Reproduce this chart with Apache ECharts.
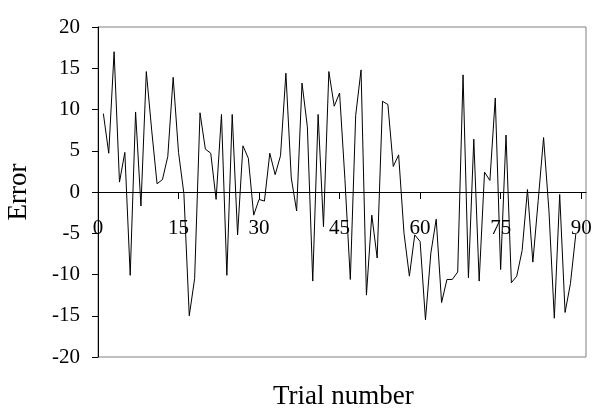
<!DOCTYPE html>
<html>
<head>
<meta charset="utf-8">
<script src="https://cdn.jsdelivr.net/npm/echarts@6/dist/echarts.min.js"></script>
<style>
html,body{margin:0;padding:0;background:#fff;}
#chart{width:592px;height:412px;}
</style>
</head>
<body>
<div id="chart"></div>
<script>
const trials = [1,2,3,4,5,6,7,8,9,10,11,12,13,14,15,16,17,18,19,20,21,22,23,24,25,26,27,28,29,30,31,32,33,34,35,36,37,38,39,40,41,42,43,44,45,46,47,48,49,50,51,52,53,54,55,56,57,58,59,60,61,62,63,64,65,66,67,68,69,70,71,72,73,74,75,76,77,78,79,80,81,82,83,84,85,86,87,88,89];
const errors = [9.5,4.7,17.0,1.2,4.8,-10.1,9.7,-1.7,14.6,7.5,
  1.0,1.5,4.3,13.9,4.8,-0.2,-15.0,-10.5,9.6,5.2,
  4.7,-0.9,9.4,-10.1,9.4,-5.2,5.6,4.1,-2.8,-0.9,
  -1.1,4.7,2.1,4.4,14.4,1.7,-2.3,13.2,7.9,-10.8,
  9.4,-4.2,14.6,10.4,12.0,1.5,-10.6,9.3,14.8,-12.5,
  -2.8,-8.0,11.0,10.6,3.1,4.5,-5.0,-10.2,-5.2,-6.0,
  -15.5,-7.4,-3.3,-13.4,-10.6,-10.6,-9.7,14.2,-10.4,6.4,
  -10.8,2.4,1.4,11.4,-9.4,6.9,-11.0,-10.2,-7.1,0.3,
  -8.5,-1.0,6.6,-2.3,-15.3,-0.3,-14.6,-11.1,-5.1];
const xTicks = [0,15,30,45,60,75,90];
const yTicks = [-20,-15,-10,-5,0,5,10,15,20];
const xTitle = 'Trial number';
const yTitle = 'Error';

const font = '"Liberation Serif","Times New Roman",serif';
const chart = echarts.init(document.getElementById('chart'), null, {renderer:'canvas'});
chart.setOption({
  animation: false,
  backgroundColor: '#fff',
  grid: {left: 98, top: 27, right: 6, bottom: 55, show: true, borderColor: '#808080', borderWidth: 1,
         containLabel: false, outerBoundsMode: 'none'},
  xAxis: {
    type: 'value', min: 0, max: 90.9, interval: 15,
    offset: -165,
    axisLine: {onZero: false, lineStyle: {color: '#000', width: 1}},
    axisTick: {show: true, length: 7, customValues: xTicks, lineStyle: {color: '#000'}},
    axisLabel: {customValues: xTicks, color: '#000', fontFamily: font, fontSize: 21, margin: 26},
    splitLine: {show: false}
  },
  yAxis: {
    type: 'value', min: -20, max: 20, interval: 5,
    axisLine: {show: true, lineStyle: {color: '#000', width: 1}},
    axisTick: {show: true, length: 6, lineStyle: {color: '#000'}},
    axisLabel: {color: '#000', fontFamily: font, fontSize: 21, margin: 18, customValues: yTicks},
    splitLine: {show: false}
  },
  graphic: [{
    type: 'text', left: 273, top: 383,
    style: {text: xTitle, fill: '#000', font: '27px ' + font}
  }, {
    type: 'text', x: 19, y: 192, rotation: Math.PI / 2,
    style: {text: yTitle, fill: '#000', font: '27px ' + font, textAlign: 'center', textVerticalAlign: 'middle'}
  }],
  series: [{
    type: 'line',
    data: trials.map((t, i) => [t, errors[i]]),
    showSymbol: false, symbol: 'none',
    lineStyle: {color: '#000', width: 1},
    silent: true
  }]
});
</script>
</body>
</html>
